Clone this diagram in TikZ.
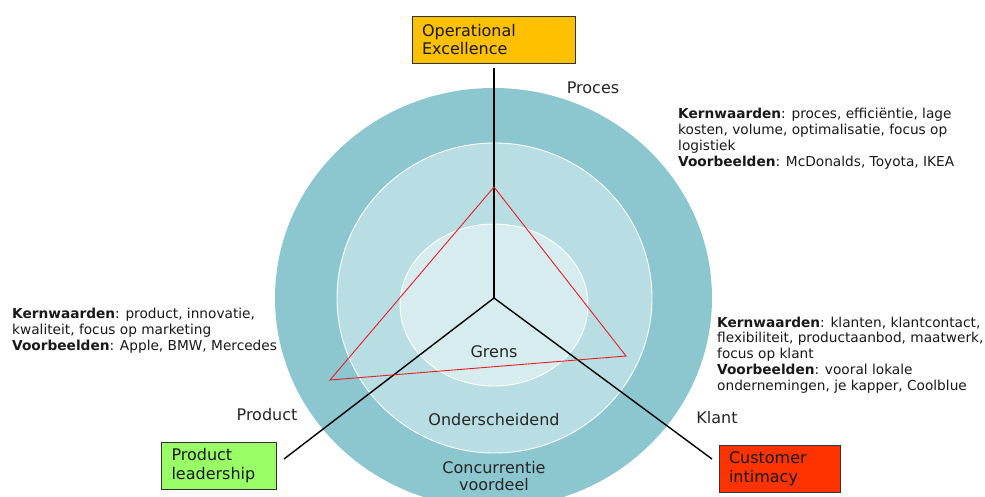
\documentclass[tikz,border=0pt]{standalone}
\usepackage{fontspec}
\setmainfont{DejaVu Sans}
\begin{document}
\begin{tikzpicture}[x=1pt,y=-1pt,
  txt/.style={inner sep=0pt, text=black!90, font=\fontsize{13.7}{15.7}\selectfont, align=left, anchor=base west},
  lbl/.style={inner sep=0pt, text=black!85, font=\fontsize{16}{17}\selectfont, align=center},
  boxn/.style={draw=black!80, line width=0.9pt, minimum height=47pt, inner xsep=10pt, inner ysep=0pt, align=left, font=\fontsize{16}{18.5}\selectfont, text=black!90},
  axis/.style={line width=1.4pt, black},
  tri/.style={line width=0.9pt, draw={rgb,255:red,230;green,30;blue,40}}]
\definecolor{ring1}{RGB}{140,198,206}
\definecolor{ring2}{RGB}{184,222,227}
\definecolor{ring3}{RGB}{214,236,239}
\definecolor{oeyel}{RGB}{255,192,0}
\definecolor{plgrn}{RGB}{153,255,102}
\definecolor{cired}{RGB}{255,51,0}
\useasboundingbox (0,0) rectangle (985,496);
\clip (0,0) rectangle (985,496);
\fill[white] (0,0) rectangle (985,496);
% rings
\fill[ring1] (493.5,298) ellipse [x radius=218.5pt, y radius=210pt];
\filldraw[fill=ring2, draw=white, line width=0.9pt] (494.5,298) ellipse [x radius=157.5pt, y radius=155pt];
\filldraw[fill=ring3, draw=white, line width=0.9pt] (494,305) ellipse [x radius=94pt, y radius=81pt];
% ring labels
\node[lbl] (grens) at (494,352) {Grens};
\node[lbl] (onder) at (494,420) {Onderscheidend};
\node[lbl, font=\fontsize{16}{17}\selectfont] (conc) at (494,476.5) {Concurrentie\\voordeel};
% axes
\coordinate (c) at (494,298);
\coordinate (top) at (494,68);
\coordinate (ll) at (284,459);
\coordinate (lr) at (712,459);
\draw[axis] (top) -- (c);
\draw[axis] (c) -- (ll);
\draw[axis] (c) -- (lr);
% triangle
\coordinate (ta) at (494,187);
\coordinate (tb) at (330,380);
\coordinate (tc) at (626,356);
\draw[tri] (ta) -- (tb) -- (tc) -- cycle;
% boxes
\node[boxn, fill=oeyel, minimum width=163pt, text width=143pt] (oe) at (493.5,39.5) {Operational\\Excellence};
\node[boxn, fill=plgrn, minimum width=115pt, text width=94pt, inner xsep=10.5pt] (pl) at (218.5,465.5) {Product\\leadership};
\node[boxn, fill=cired, minimum width=121pt, text width=101pt] (ci) at (779.5,468.5) {Customer\\intimacy};
% axis labels
\node[lbl] (proces) at (593,88) {Proces};
\node[lbl] (product) at (267,415) {Product};
\node[lbl] (klant) at (717,418) {Klant};
% text blocks (base = last line)
\node[txt] (t1) at (678,166) {\textbf{Kernwaarden}: proces, efficiëntie, lage\\kosten, volume, optimalisatie, focus op\\logistiek\\\textbf{Voorbeelden}: McDonalds, Toyota, IKEA};
\node[txt] (t2) at (12,350) {\textbf{Kernwaarden}: product, innovatie,\\kwaliteit, focus op marketing\\\textbf{Voorbeelden}: Apple, BMW, Mercedes};
\node[txt] (t3) at (717,390) {\textbf{Kernwaarden}: klanten, klantcontact,\\flexibiliteit, productaanbod, maatwerk,\\focus op klant\\\textbf{Voorbeelden}: vooral lokale\\ondernemingen, je kapper, Coolblue};
\end{tikzpicture}
\end{document}
